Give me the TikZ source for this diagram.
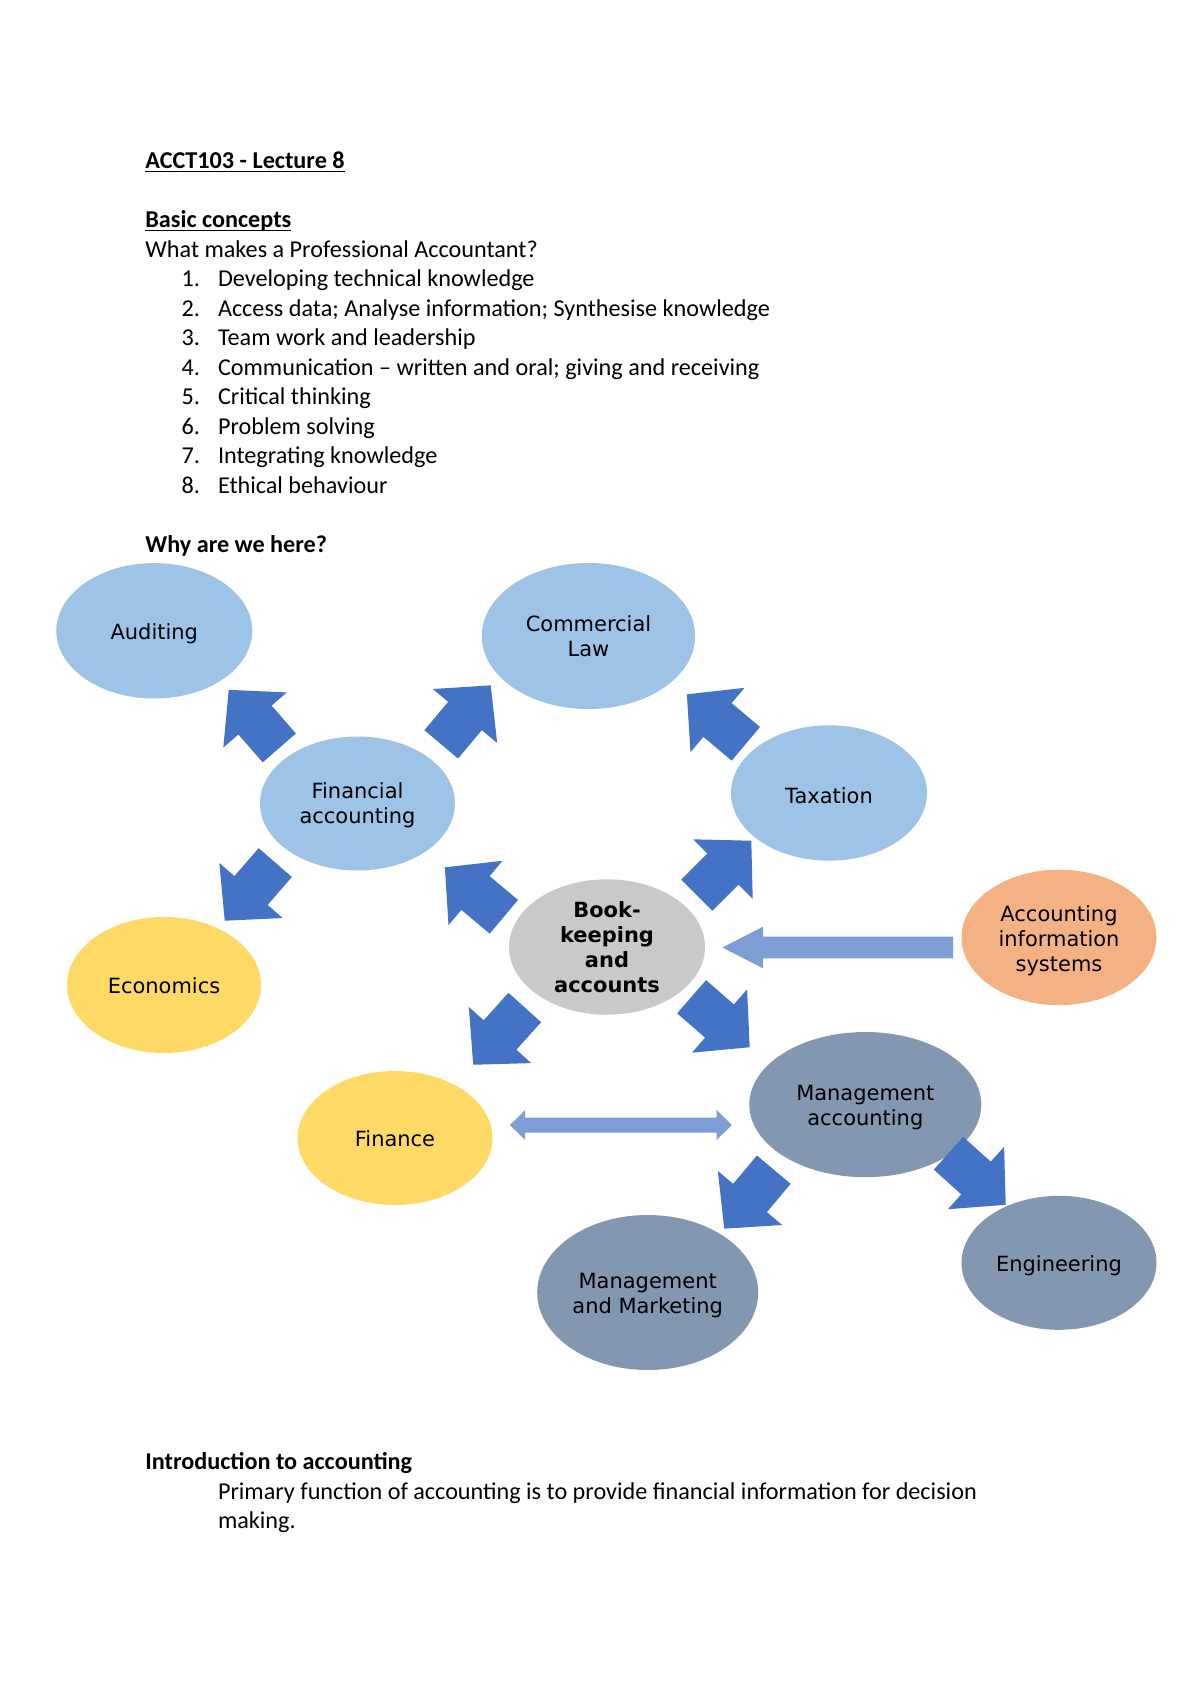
\documentclass[tikz,border=0pt]{standalone}
\usepackage{fontspec}
\setmainfont{Carlito}
\newfontfamily\dejavu{DejaVu Sans}
\usetikzlibrary{shapes.geometric,calc}
\definecolor{lblue}{HTML}{9DC3E6}
\definecolor{lyellow}{HTML}{FFD966}
\definecolor{lgray}{HTML}{C9C9C9}
\definecolor{lorange}{HTML}{F4B183}
\definecolor{slate}{HTML}{8497B0}
\definecolor{arrblue}{HTML}{4472C4}
\definecolor{arrlight}{HTML}{7C9ED5}
\newcommand\pxu{0.49607pt}
\newcommand\ulbox[1]{\setbox0\hbox{#1}\rlap{\rule[-1.7pt]{\wd0}{0.6pt}}\box0}
\begin{document}
\begin{tikzpicture}[x=0.49607pt,y=-0.49607pt,
  ell/.style={ellipse, fill=#1, draw=none, inner sep=0pt},
  etext/.style={font=\dejavu\fontsize{10.4}{12.4}\selectfont, align=center, inner sep=0pt, text=black},
  body/.style={font=\fontsize{12}{14.65}\selectfont, anchor=base west, inner sep=0pt},
  lightarrow/.style={fill=arrlight},
  barrow/.pic={\fill[arrblue] (40,0) -- (0,42) -- (0,22) -- (-37,22) -- (-37,-22) -- (0,-22) -- (0,-42) -- cycle;}
]
\useasboundingbox (0,0) rectangle (1200,1698);
\fill[white] (0,0) rectangle (1200,1698);

% ---- text block ----
\node[body] (t0) at (145,168.5) {\bfseries\ulbox{ACCT103 - Lecture 8}};
\node[body] (t1) at (145,227.5) {\bfseries\ulbox{Basic concepts}};
\node[body] (t2) at (145,257) {What makes a Professional Accountant?};
\node[body] (n1) at (181.3,286.5) {1.};
\node[body] (i1) at (217.6,286.5) {Developing technical knowledge};
\node[body] (n2) at (181.3,316) {2.};
\node[body] (i2) at (217.6,316) {Access data; Analyse information; Synthesise knowledge};
\node[body] (n3) at (181.3,345.5) {3.};
\node[body] (i3) at (217.6,345.5) {Team work and leadership};
\node[body] (n4) at (181.3,375) {4.};
\node[body] (i4) at (217.6,375) {Communication – written and oral; giving and receiving};
\node[body] (n5) at (181.3,404.5) {5.};
\node[body] (i5) at (217.6,404.5) {Critical thinking};
\node[body] (n6) at (181.3,434) {6.};
\node[body] (i6) at (217.6,434) {Problem solving};
\node[body] (n7) at (181.3,463.5) {7.};
\node[body] (i7) at (217.6,463.5) {Integrating knowledge};
\node[body] (n8) at (181.3,493) {8.};
\node[body] (i8) at (217.6,493) {Ethical behaviour};
\node[body] (why) at (145,552) {\bfseries Why are we here?};
\node[body] (intro) at (145,1469.5) {\bfseries Introduction to accounting};
\node[body] (p1) at (217.6,1499) {Primary function of accounting is to provide financial information for decision};
\node[body] (p2) at (217.6,1528.5) {making.};

% ---- ellipses ----
\node[ell=lblue, minimum width=196*\pxu, minimum height=135.4*\pxu] (aud) at (154.3,630.8) {};
\node[ell=lblue, minimum width=213.4*\pxu, minimum height=146*\pxu] (cl) at (588.5,636) {};
\node[ell=lblue, minimum width=195*\pxu, minimum height=134*\pxu] (fa) at (357.5,803.5) {};
\node[ell=lblue, minimum width=196*\pxu, minimum height=135.4*\pxu] (tax) at (829,793) {};
\node[ell=lyellow, minimum width=194*\pxu, minimum height=136*\pxu] (eco) at (164,985) {};
\node[ell=lgray, minimum width=196*\pxu, minimum height=135.4*\pxu] (bk) at (607,947) {};
\node[ell=lorange, minimum width=195*\pxu, minimum height=135.4*\pxu] (ais) at (1059,937.4) {};
\node[ell=lyellow, minimum width=195*\pxu, minimum height=134*\pxu] (fin) at (395,1138) {};
\node[ell=slate, minimum width=232*\pxu, minimum height=145.2*\pxu] (mac) at (865.3,1104.6) {};
\node[ell=slate, minimum width=195*\pxu, minimum height=134*\pxu] (eng) at (1059,1262.8) {};
\node[ell=slate, minimum width=221*\pxu, minimum height=155*\pxu] (mm) at (647.7,1292.5) {};

\node[etext] (aud-t) at ($(aud)+(0,2.5)$) {Auditing};
\node[etext] (cl-t) at (cl) {Commercial\\Law};
\node[etext] (fa-t) at ($(fa)+(0,2)$) {Financial\\accounting};
\node[etext] (tax-t) at ($(tax)+(0,2.5)$) {Taxation};
\node[etext] (eco-t) at ($(eco)+(0,1)$) {Economics};
\node[etext, font=\dejavu\bfseries\fontsize{10.4}{12.4}\selectfont] (bk-t) at (bk) {Book-\\keeping\\and\\accounts};
\node[etext] (ais-t) at ($(ais)+(0,3)$) {Accounting\\information\\systems};
\node[etext] (fin-t) at ($(fin)+(0,1)$) {Finance};
\node[etext] (mac-t) at ($(mac)+(0,3)$) {Management\\accounting};
\node[etext] (eng-t) at ($(eng)+(0,3)$) {Engineering};
\node[etext] (mm-t) at ($(mm)+(0,3)$) {Management\\and Marketing};

% ---- block arrows ----
\pic[rotate=131] at (255,720) {barrow};
\pic[rotate=50] at (465,716) {barrow};
\pic[rotate=229] at (251,890.5) {barrow};
\pic[rotate=140] at (717.5,720) {barrow};
\pic[rotate=140] at (475.5,893) {barrow};
\pic[rotate=45] at (723,869) {barrow};
\pic[rotate=228] at (500,1035) {barrow};
\pic[rotate=-41] at (719.5,1021) {barrow};
\pic[rotate=230] at (750,1198) {barrow};
\pic[rotate=-42] at (976,1178) {barrow};

% ---- light arrows ----
\coordinate (a1) at ($(bk.east)+(17,0.5)$);
\coordinate (a2) at ($(ais.west |- bk.east)+(-8,0.5)$);
\fill[lightarrow] (a1) -- ($(a1)+(40.6,-20.8)$) -- ($(a1)+(40.6,-10.8)$) -- ($(a2)+(0,-10.8)$)
  -- ($(a2)+(0,10.8)$) -- ($(a1)+(40.6,10.8)$) -- ($(a1)+(40.6,20.8)$) -- cycle;

\coordinate (d1) at ($(fin.east)+(17,-13)$);
\coordinate (d2) at ($(mac.west)+(-17,20.4)$);
\fill[lightarrow] (d1) -- ($(d1)+(15.3,-15)$) -- ($(d1)+(15.3,-7.5)$) -- ($(d2)+(-15.3,-7.5)$)
  -- ($(d2)+(-15.3,-15)$) -- (d2) -- ($(d2)+(-15.3,15)$) -- ($(d2)+(-15.3,7.5)$)
  -- ($(d1)+(15.3,7.5)$) -- ($(d1)+(15.3,15)$) -- cycle;
\end{tikzpicture}
\end{document}
